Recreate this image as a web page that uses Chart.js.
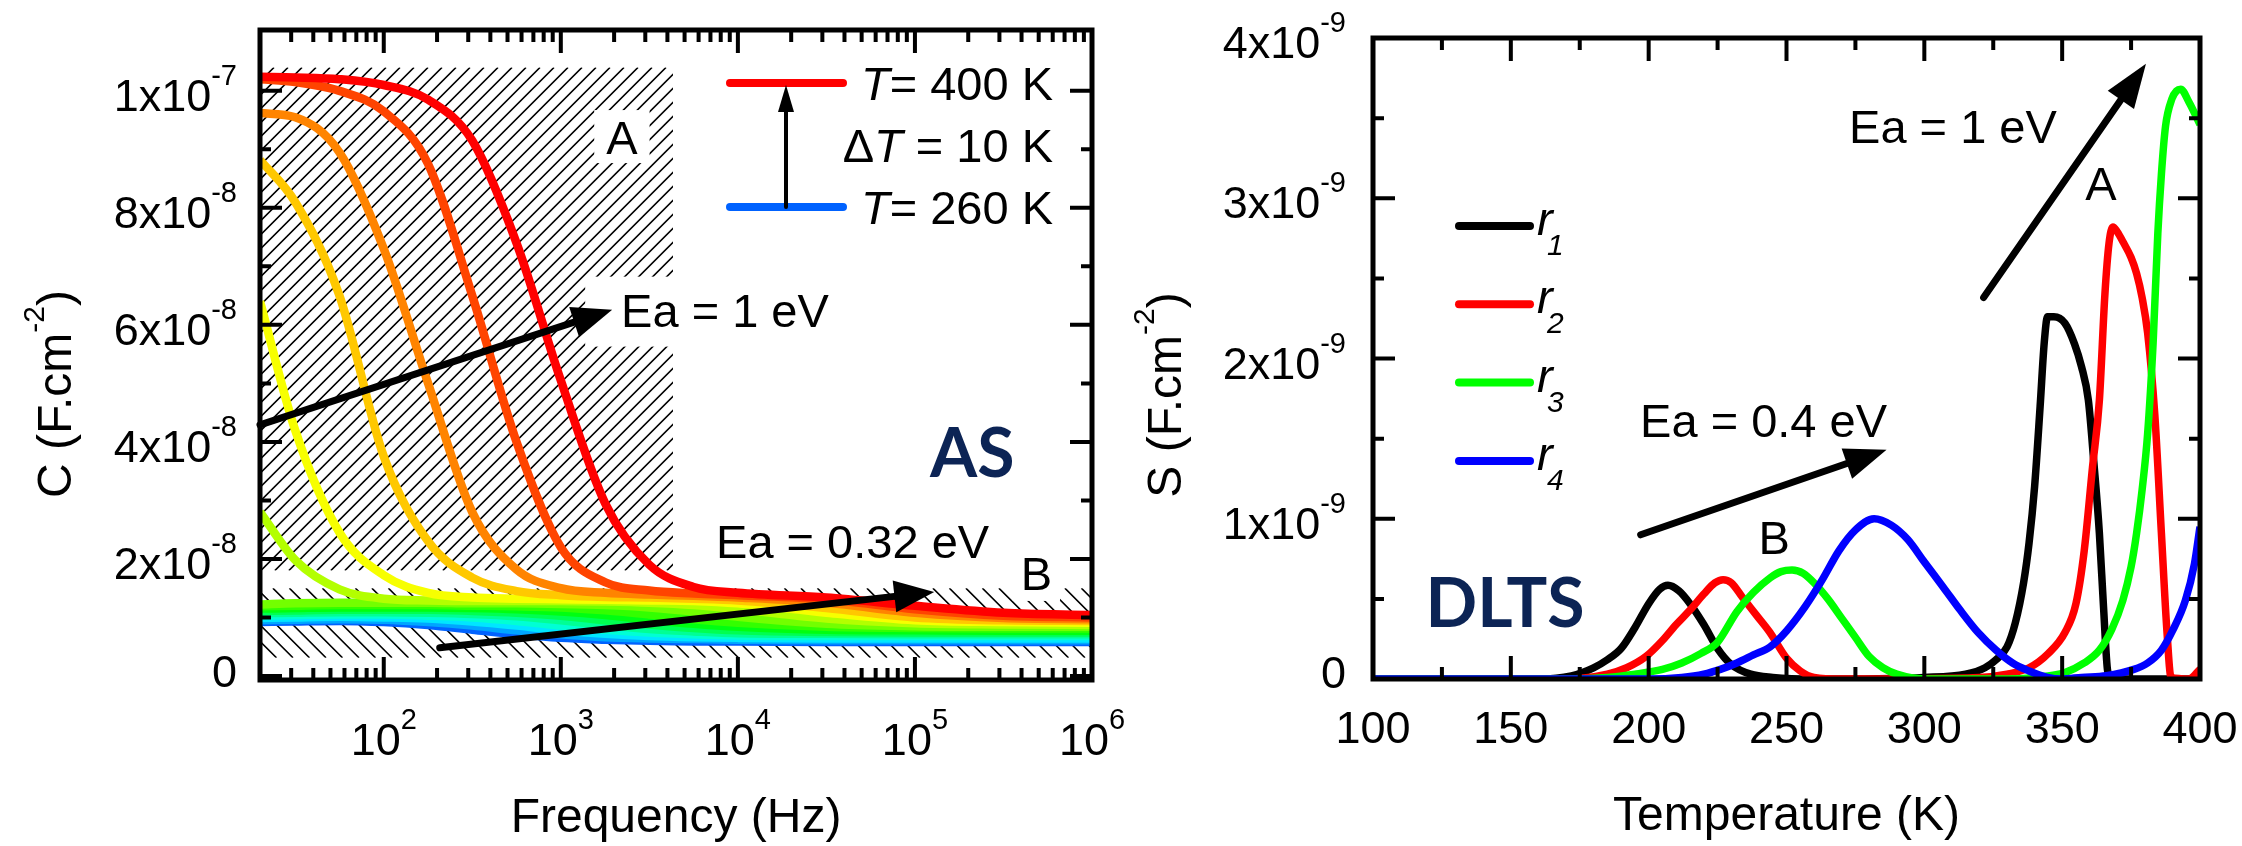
<!DOCTYPE html>
<html>
<head>
<meta charset="utf-8">
<title>AS / DLTS</title>
<script src="https://cdn.jsdelivr.net/npm/chart.js@4.4.1/dist/chart.umd.min.js"></script>
<style>
  html, body { margin: 0; padding: 0; background: #fff; }
  #page { position: relative; width: 2242px; height: 846px; overflow: hidden; background: #fff; }
  canvas { position: absolute; top: 0; }
  #asChart { left: 0; }
  #dltsChart { left: 1130px; }
</style>
</head>
<body>
<div id="page">
  <canvas id="asChart" width="1130" height="846"></canvas>
  <canvas id="dltsChart" width="1112" height="846"></canvas>
</div>
<script>
// ===== DATA: admittance spectroscopy, C in 1e-8 F.cm-2 =====
const asFreq  = [20, 31.6, 56.2, 100, 178, 316, 562, 1000, 1780, 3160, 5620, 1e4, 3.16e4, 1e5, 3.16e5, 1e6];
const asTemps = [260, 270, 280, 290, 300, 310, 320, 330, 340, 350, 360, 370, 380, 390, 400];

const c260 = [0.92, 0.93, 0.94, 0.92, 0.87, 0.79, 0.71, 0.65, 0.62, 0.60, 0.59, 0.59, 0.58, 0.58, 0.58, 0.58];
const c270 = [0.95, 0.96, 0.97, 0.96, 0.92, 0.86, 0.78, 0.71, 0.66, 0.64, 0.63, 0.62, 0.61, 0.61, 0.61, 0.61];
const c280 = [0.99, 1.00, 1.01, 1.00, 0.98, 0.93, 0.86, 0.78, 0.72, 0.68, 0.66, 0.65, 0.64, 0.64, 0.64, 0.64];
const c290 = [1.03, 1.04, 1.05, 1.05, 1.03, 1.00, 0.94, 0.86, 0.79, 0.74, 0.71, 0.69, 0.68, 0.68, 0.68, 0.68];
const c300 = [1.07, 1.08, 1.09, 1.09, 1.08, 1.06, 1.02, 0.95, 0.87, 0.80, 0.76, 0.73, 0.72, 0.71, 0.71, 0.71];
const c310 = [1.11, 1.12, 1.13, 1.13, 1.13, 1.11, 1.08, 1.03, 0.95, 0.88, 0.82, 0.78, 0.75, 0.74, 0.74, 0.74];
const c320 = [1.15, 1.16, 1.17, 1.17, 1.17, 1.16, 1.14, 1.10, 1.04, 0.96, 0.89, 0.84, 0.79, 0.78, 0.77, 0.77];
const c330 = [1.19, 1.20, 1.21, 1.21, 1.21, 1.20, 1.19, 1.17, 1.12, 1.05, 0.97, 0.91, 0.84, 0.82, 0.81, 0.81];
const c340 = [1.22, 1.24, 1.25, 1.25, 1.25, 1.24, 1.24, 1.23, 1.21, 1.17, 1.10, 1.01, 0.89, 0.85, 0.84, 0.84];
const c350 = [2.80, 1.98, 1.48, 1.32, 1.29, 1.28, 1.28, 1.28, 1.27, 1.25, 1.21, 1.14, 0.98, 0.90, 0.88, 0.87];
const c360 = [6.40, 4.20, 2.45, 1.72, 1.42, 1.34, 1.32, 1.31, 1.30, 1.29, 1.28, 1.24, 1.08, 0.95, 0.92, 0.91];
const c370 = [8.82, 8.10, 6.50, 3.75, 2.30, 1.68, 1.45, 1.38, 1.35, 1.34, 1.32, 1.29, 1.16, 1.00, 0.95, 0.94];
const c380 = [9.62, 9.55, 8.95, 7.30, 5.00, 2.80, 1.82, 1.50, 1.42, 1.39, 1.37, 1.34, 1.25, 1.08, 0.99, 0.97];
const c390 = [10.20, 10.15, 10.00, 9.65, 8.75, 6.50, 4.00, 2.20, 1.60, 1.46, 1.41, 1.38, 1.31, 1.14, 1.03, 1.00];
const c400 = [10.24, 10.23, 10.20, 10.10, 9.85, 9.15, 7.40, 5.05, 2.95, 1.90, 1.52, 1.42, 1.34, 1.20, 1.08, 1.04];
const asCurves = [c260, c270, c280, c290, c300, c310, c320, c330, c340, c350, c360, c370, c380, c390, c400];
const asHues = [217, 201, 186, 170, 155, 139, 124, 108, 93, 78, 62, 47, 31, 16, 0]; // blue -> red

const asXTicks = [1e2, 1e3, 1e4, 1e5, 1e6];
const asXExp   = ['2', '3', '4', '5', '6'];
const asYTicks = [0, 2, 4, 6, 8, 10];
const asYBase  = ['0', '2x10', '4x10', '6x10', '8x10', '1x10'];
const asYExp   = ['', '-8', '-8', '-8', '-8', '-7'];
const asYMinor = [1, 3, 5, 7, 9];

// hatched zones and annotations (Hz, 1e-8 F.cm-2)
const zoneAFreq = [20, 4300];   const zoneAC = [1.8, 10.4];
const zoneBFreq = [20, 1e6];    const zoneBC = [0.31, 1.5];
const asArrowA  = [[20, 4.29], [1950, 6.26]];
const asArrowB  = [[207, 0.48], [1.285e5, 1.436]];
const asTextEa1 = [2190, 5.97];
const asTextEa2 = [7530, 2.02];
const asLabelA  = [2213, 9.21];
const asLabelB  = [4.85e5, 1.76];
const asLabelAS = [2.11e5, 3.83];

// ===== DATA: DLTS, S in 1e-9 F.cm-2 =====
const r1T = [100, 160, 172, 180, 185, 190, 195, 200, 204, 207, 211, 215, 220, 225, 230, 237, 245, 260, 300, 315, 322, 326, 330, 333, 336, 338, 340, 342, 343.5, 344.7, 347, 351, 354.5, 357, 359.5, 361.5, 363.5, 365, 366.5, 368, 400];
const r1S = [0, 0, 0.02, 0.07, 0.12, 0.19, 0.32, 0.47, 0.56, 0.585, 0.55, 0.47, 0.34, 0.19, 0.09, 0.03, 0.01, 0, 0.01, 0.03, 0.07, 0.12, 0.2, 0.35, 0.6, 0.85, 1.2, 1.7, 2.1, 2.26, 2.26, 2.22, 2.09, 1.95, 1.74, 1.35, 0.91, 0.45, 0.05, 0, 0];
const r2T = [100, 170, 185, 192, 199, 205, 210, 215, 220, 224, 227, 230, 234, 239, 244, 250, 255, 260, 270, 320, 330, 338, 345, 351, 355, 358, 361, 363.5, 365.5, 367, 368.4, 370, 372, 375, 377, 379, 381, 383.6, 386, 388, 389.5, 396, 400];
const r2S = [0, 0, 0.03, 0.07, 0.14, 0.24, 0.34, 0.43, 0.53, 0.6, 0.62, 0.6, 0.51, 0.4, 0.29, 0.13, 0.05, 0.01, 0, 0.01, 0.03, 0.07, 0.16, 0.29, 0.47, 0.8, 1.32, 1.74, 2.4, 2.72, 2.82, 2.79, 2.73, 2.63, 2.53, 2.38, 2.16, 1.65, 0.91, 0.3, 0.01, 0, 0.06];
const r3T = [100, 170, 185, 195, 205, 212, 219, 225, 232, 238, 244, 248, 252, 256, 260, 265, 270, 275, 280, 285, 290, 300, 330, 340, 351, 358, 363.5, 368, 372, 375, 377, 379, 381, 383, 384.7, 386, 387.5, 389.8, 391.5, 393, 396, 400];
const r3S = [0, 0, 0.01, 0.03, 0.06, 0.1, 0.16, 0.23, 0.42, 0.54, 0.63, 0.67, 0.68, 0.66, 0.6, 0.5, 0.38, 0.26, 0.14, 0.07, 0.03, 0, 0, 0.01, 0.04, 0.1, 0.18, 0.31, 0.49, 0.7, 0.91, 1.18, 1.53, 2.1, 2.78, 3.15, 3.45, 3.62, 3.67, 3.68, 3.6, 3.46];
const r4T = [100, 200, 212, 220, 226, 232, 238, 244, 250, 256.7, 263, 269, 275, 281.8, 288, 294, 300, 307, 313, 319.5, 326, 332, 338, 344.6, 350, 357, 366, 376, 381, 386, 390, 394.7, 398, 400];
const r4S = [0, 0, 0.01, 0.03, 0.06, 0.1, 0.15, 0.2, 0.3, 0.45, 0.62, 0.8, 0.93, 1.0, 0.96, 0.87, 0.73, 0.57, 0.43, 0.29, 0.18, 0.1, 0.05, 0.01, 0, 0.01, 0.02, 0.06, 0.1, 0.18, 0.3, 0.49, 0.72, 0.95];
const dltsColors = ['#000000', '#ff0000', '#00ff00', '#0000ff'];
const dltsNames  = ['1', '2', '3', '4'];

const dltsXTicks = [100, 150, 200, 250, 300, 350, 400];
const dltsXMinor = [125, 175, 225, 275, 325, 375];
const dltsYTicks = [0, 1, 2, 3, 4];
const dltsYBase  = ['0', '1x10', '2x10', '3x10', '4x10'];
const dltsYMinor = [0.5, 1.5, 2.5, 3.5];

const dltsArrowA  = [[321.5, 2.38], [380.4, 3.84]];
const dltsArrowB  = [[197.1, 0.9], [286.3, 1.43]];
const dltsTextEa1 = [272.7, 3.345];
const dltsTextEa2 = [196.9, 1.51];
const dltsLabelA  = [364.1, 3.098];
const dltsLabelB  = [245.5, 0.886];
const dltsLabelDL = [147.9, 0.48];

// ===== DRAW HELPERS =====
const FONT = '"Liberation Sans", Arial, Helvetica, sans-serif';
const NAVY = '#0c2455';

function font(size, italic) { return (italic ? 'italic ' : '') + size + 'px ' + FONT; }

// segs: [text, size, dy, italic]
function rich(ctx, segs, x, y, align) {
  let w = 0;
  const ws = segs.map(s => { ctx.font = font(s[1], s[3]); const m = ctx.measureText(s[0]).width; w += m; return m; });
  let cx = align === 'right' ? x - w : align === 'center' ? x - w / 2 : x;
  segs.forEach((s, i) => { ctx.font = font(s[1], s[3]); ctx.fillText(s[0], cx, y + (s[2] || 0)); cx += ws[i]; });
  return w;
}

function arrow(ctx, x1, y1, x2, y2, lw, hl, hw) {
  const a = Math.atan2(y2 - y1, x2 - x1);
  const bx = x2 - hl * Math.cos(a), by = y2 - hl * Math.sin(a);
  ctx.save();
  ctx.strokeStyle = '#000'; ctx.fillStyle = '#000';
  ctx.lineWidth = lw; ctx.lineCap = 'round';
  ctx.beginPath(); ctx.moveTo(x1, y1); ctx.lineTo(bx, by); ctx.stroke();
  ctx.beginPath();
  ctx.moveTo(x2, y2);
  ctx.lineTo(bx + hw / 2 * Math.sin(a), by - hw / 2 * Math.cos(a));
  ctx.lineTo(bx - hw / 2 * Math.sin(a), by + hw / 2 * Math.cos(a));
  ctx.closePath(); ctx.fill();
  ctx.restore();
}

function hatch(ctx, x0, y0, x1, y1, step, dir) {
  ctx.save();
  ctx.beginPath(); ctx.rect(x0, y0, x1 - x0, y1 - y0); ctx.clip();
  ctx.strokeStyle = '#000'; ctx.lineWidth = 1.6;
  ctx.beginPath();
  const h = y1 - y0;
  for (let x = x0 - h; x < x1 + h; x += step) {
    if (dir > 0) { ctx.moveTo(x, y1); ctx.lineTo(x + h, y0); }
    else { ctx.moveTo(x, y0); ctx.lineTo(x + h, y1); }
  }
  ctx.stroke();
  ctx.restore();
}

function frame(chart, xMaj, xMin, yMaj, yMin) {
  const { ctx, chartArea: a, scales: { x, y } } = chart;
  ctx.save();
  ctx.strokeStyle = '#000'; ctx.lineWidth = 4; ctx.lineCap = 'butt';
  ctx.beginPath();
  const vt = (v, len) => { const p = x.getPixelForValue(v); ctx.moveTo(p, a.bottom); ctx.lineTo(p, a.bottom - len); ctx.moveTo(p, a.top); ctx.lineTo(p, a.top + len); };
  const ht = (v, len) => { const p = y.getPixelForValue(v); ctx.moveTo(a.left, p); ctx.lineTo(a.left + len, p); ctx.moveTo(a.right, p); ctx.lineTo(a.right - len, p); };
  xMaj.forEach(v => vt(v, 23)); xMin.forEach(v => vt(v, 12));
  yMaj.forEach(v => ht(v, 22)); yMin.forEach(v => ht(v, 11));
  ctx.stroke();
  ctx.lineWidth = 5;
  ctx.strokeRect(a.left, a.top, a.right - a.left, a.bottom - a.top);
  ctx.restore();
}

function padBox(ctx, x, y, w, h) { ctx.fillStyle = '#fff'; ctx.fillRect(x, y, w, h); }

// log minor ticks of the frequency axis
const asXMinor = [];
for (let k = 1; k <= 5; k++) for (let m = 2; m <= 9; m++) { const v = m * Math.pow(10, k); if (v > 20) asXMinor.push(v); }

// ===== AS CHART =====
const asDecor = {
  id: 'asDecor',
  beforeDatasetsDraw(chart) {
    const { ctx, scales: { x, y } } = chart;
    const px = v => x.getPixelForValue(v), py = v => y.getPixelForValue(v);
    hatch(ctx, px(zoneAFreq[0]), py(zoneAC[1]), px(zoneAFreq[1]), py(zoneAC[0]), 14, 1);
    hatch(ctx, px(zoneBFreq[0]), py(zoneBC[1]), px(zoneBFreq[1]), py(zoneBC[0]), 16.5, -1);
    ctx.save();
    ctx.font = font(47);
    const wA = ctx.measureText('A').width;
    padBox(ctx, px(asLabelA[0]) - wA / 2 - 12, py(asLabelA[1]) - 27, wA + 24, 53);
    const wB = ctx.measureText('B').width;
    padBox(ctx, px(asLabelB[0]) - wB / 2 - 8, py(asLabelB[1]) - 26, wB + 16, 54);
    const ey = py(asTextEa1[1]);
    padBox(ctx, px(asArrowA[1][0]) - 27, ey - 50, 300, 70);
    ctx.restore();
  },
  afterDatasetsDraw(chart) {
    const { ctx, chartArea: a, scales: { x, y } } = chart;
    const px = v => x.getPixelForValue(v), py = v => y.getPixelForValue(v);
    frame(chart, asXTicks, asXMinor, asYTicks, asYMinor);
    ctx.save();
    ctx.fillStyle = '#000'; ctx.textBaseline = 'alphabetic';
    asXTicks.forEach((v, i) => rich(ctx, [['10', 45], [asXExp[i], 29, -26]], px(v), a.bottom + 75, 'center'));
    asYTicks.forEach((v, i) => {
      if (asYExp[i]) rich(ctx, [[asYBase[i], 45], [asYExp[i], 29, -26]], a.left - 23, py(v) + 20, 'right');
      else rich(ctx, [[asYBase[i], 45]], a.left - 23, py(v) + 11, 'right');
    });
    rich(ctx, [['Frequency (Hz)', 48]], (a.left + a.right) / 2, 832, 'center');
    ctx.save();
    ctx.translate(71, 394); ctx.rotate(-Math.PI / 2);
    rich(ctx, [['C (F.cm', 48], ['-2', 30, -27], [')', 48]], 0, 0, 'center');
    ctx.restore();

    // activation energy arrows and labels
    arrow(ctx, px(asArrowA[0][0]), py(asArrowA[0][1]), px(asArrowA[1][0]), py(asArrowA[1][1]), 7, 40, 32);
    arrow(ctx, px(asArrowB[0][0]), py(asArrowB[0][1]), px(asArrowB[1][0]), py(asArrowB[1][1]), 7, 40, 32);
    rich(ctx, [['Ea = 1 eV', 47]], px(asTextEa1[0]), py(asTextEa1[1]), 'left');
    rich(ctx, [['Ea = 0.32 eV', 47]], px(asTextEa2[0]), py(asTextEa2[1]), 'left');
    rich(ctx, [['A', 47]], px(asLabelA[0]), py(asLabelA[1]) + 17, 'center');
    rich(ctx, [['B', 47]], px(asLabelB[0]), py(asLabelB[1]) + 17, 'center');

    // temperature legend
    const lx0 = a.left + 470, lx1 = a.left + 583, yr = a.top + 53, yb = a.top + 177;
    ctx.lineCap = 'round'; ctx.lineWidth = 8;
    ctx.strokeStyle = 'hsl(0,100%,50%)';
    ctx.beginPath(); ctx.moveTo(lx0, yr); ctx.lineTo(lx1, yr); ctx.stroke();
    ctx.strokeStyle = 'hsl(' + asHues[0] + ',100%,50%)';
    ctx.beginPath(); ctx.moveTo(lx0, yb); ctx.lineTo(lx1, yb); ctx.stroke();
    arrow(ctx, a.left + 526, yb, a.left + 526, yr + 2, 4, 27, 16);
    const tx = a.left + 793;
    rich(ctx, [['T', 47, 0, true], ['= 400 K', 47]], tx, a.top + 70, 'right');
    rich(ctx, [['\u0394', 47], ['T', 47, 0, true], [' = 10 K', 47]], tx, a.top + 132, 'right');
    rich(ctx, [['T', 47, 0, true], ['= 260 K', 47]], tx, a.top + 194, 'right');

    // method tag
    ctx.fillStyle = NAVY; ctx.font = '700 68px Lato, "Open Sans", sans-serif'; ctx.textAlign = 'center';
    ctx.fillText('AS', px(asLabelAS[0]), py(asLabelAS[1]) + 25);
    ctx.restore();
  }
};

new Chart(document.getElementById('asChart'), {
  type: 'line',
  data: {
    datasets: asTemps.map((t, i) => ({
      label: t + ' K',
      data: asFreq.map((f, j) => ({ x: f, y: asCurves[i][j] })),
      borderColor: 'hsl(' + asHues[i] + ',100%,50%)',
      borderWidth: 8.5,
      pointRadius: 0,
      cubicInterpolationMode: 'monotone',
      borderJoinStyle: 'round',
      order: asTemps.length - 1 - i // 400 K on top
    }))
  },
  options: {
    responsive: false, animation: false, devicePixelRatio: 1, events: [],
    layout: { padding: { left: 260, right: 38, top: 30, bottom: 166 } },
    plugins: { legend: { display: false }, tooltip: { enabled: false } },
    scales: {
      x: { type: 'logarithmic', min: 20, max: 1e6, display: false },
      y: { type: 'linear', min: -0.07, max: 11.04, display: false }
    }
  },
  plugins: [asDecor]
});

// ===== DLTS CHART =====
const dltsDecor = {
  id: 'dltsDecor',
  afterDatasetsDraw(chart) {
    const { ctx, chartArea: a, scales: { x, y } } = chart;
    const px = v => x.getPixelForValue(v), py = v => y.getPixelForValue(v);
    frame(chart, dltsXTicks, dltsXMinor, dltsYTicks, dltsYMinor);
    ctx.save();
    ctx.fillStyle = '#000'; ctx.textBaseline = 'alphabetic';
    dltsXTicks.forEach(v => rich(ctx, [[String(v), 45]], px(v), a.bottom + 64, 'center'));
    dltsYTicks.forEach((v, i) => {
      if (v) rich(ctx, [[dltsYBase[i], 45], ['-9', 29, -26]], a.left - 27, py(v) + 20, 'right');
      else rich(ctx, [[dltsYBase[i], 45]], a.left - 27, py(v) + 9, 'right');
    });
    rich(ctx, [['Temperature (K)', 48]], (a.left + a.right) / 2, 830, 'center');
    ctx.save();
    ctx.translate(51, 395); ctx.rotate(-Math.PI / 2);
    rich(ctx, [['S (F.cm', 48], ['-2', 30, -27], [')', 48]], 0, 0, 'center');
    ctx.restore();

    arrow(ctx, px(dltsArrowA[0][0]), py(dltsArrowA[0][1]), px(dltsArrowA[1][0]), py(dltsArrowA[1][1]), 7, 44, 32);
    arrow(ctx, px(dltsArrowB[0][0]), py(dltsArrowB[0][1]), px(dltsArrowB[1][0]), py(dltsArrowB[1][1]), 7, 42, 32);
    rich(ctx, [['Ea = 1 eV', 47]], px(dltsTextEa1[0]), py(dltsTextEa1[1]), 'left');
    rich(ctx, [['Ea = 0.4 eV', 47]], px(dltsTextEa2[0]), py(dltsTextEa2[1]), 'left');
    rich(ctx, [['A', 47]], px(dltsLabelA[0]), py(dltsLabelA[1]) + 17, 'center');
    rich(ctx, [['B', 47]], px(dltsLabelB[0]), py(dltsLabelB[1]) + 17, 'center');

    // rate-window legend
    ctx.lineCap = 'round'; ctx.lineWidth = 8;
    dltsColors.forEach((c, i) => {
      const ly = a.top + 188 + i * 78.3;
      ctx.strokeStyle = c;
      ctx.beginPath(); ctx.moveTo(a.left + 86, ly); ctx.lineTo(a.left + 157, ly); ctx.stroke();
      ctx.fillStyle = '#000';
      ctx.font = font(47, true); ctx.fillText('r', a.left + 164, ly + 9);
      ctx.font = font(30, true); ctx.fillText(dltsNames[i], a.left + 174, ly + 29);
    });

    ctx.fillStyle = NAVY; ctx.font = '700 68px Lato, "Open Sans", sans-serif'; ctx.textAlign = 'center';
    ctx.fillText('DLTS', px(dltsLabelDL[0]), py(dltsLabelDL[1]) + 25);
    ctx.restore();
  }
};

const dltsSeries = [[r1T, r1S], [r2T, r2S], [r3T, r3S], [r4T, r4S]];

new Chart(document.getElementById('dltsChart'), {
  type: 'line',
  data: {
    datasets: dltsSeries.map((s, i) => ({
      label: 'r' + dltsNames[i],
      data: s[0].map((t, j) => ({ x: t, y: s[1][j] })),
      borderColor: dltsColors[i],
      borderWidth: 7.5,
      pointRadius: 0,
      cubicInterpolationMode: 'monotone',
      borderJoinStyle: 'round',
      order: dltsSeries.length - 1 - i // r4 drawn last
    }))
  },
  options: {
    responsive: false, animation: false, devicePixelRatio: 1, events: [],
    layout: { padding: { left: 243, right: 42, top: 38, bottom: 167 } },
    plugins: { legend: { display: false }, tooltip: { enabled: false } },
    scales: {
      x: { type: 'linear', min: 100, max: 400, display: false },
      y: { type: 'linear', min: 0, max: 4, display: false }
    }
  },
  plugins: [dltsDecor]
});
</script>
</body>
</html>
